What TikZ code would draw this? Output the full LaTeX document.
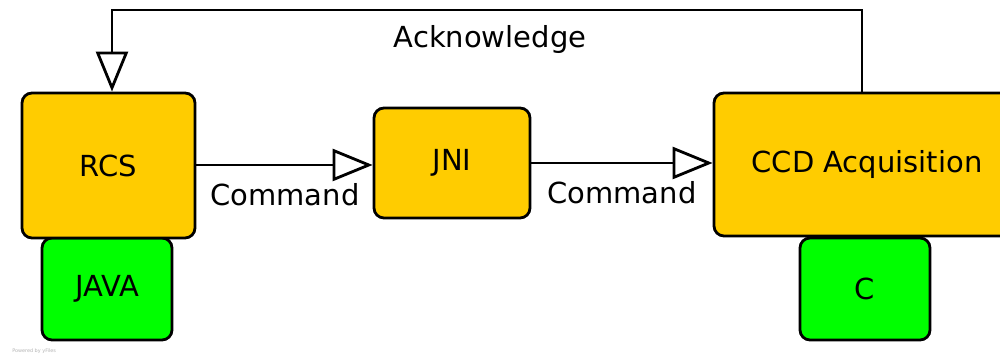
\documentclass[tikz,border=0pt]{standalone}
\usepackage{fontspec}
\setmainfont{DejaVu Sans}
\usetikzlibrary{arrows.meta,positioning}
\definecolor{boxorange}{RGB}{255,204,0}
\definecolor{boxgreen}{RGB}{0,255,0}
\tikzset{every path/.style={black,line width=1.6pt}, every node/.style={font=\fontsize{16.5}{20}\selectfont}}
\tikzset{block/.style={draw,rounded corners=0.2cm,fill=boxorange,inner sep=0pt},
  langbox/.style={draw,rounded corners=0.2cm,fill=boxgreen,inner sep=0pt,minimum width=2.6cm,minimum height=2.04cm},
  openarrow/.style={-{Triangle[open,length=0.8cm,width=0.64cm,fill=white]}}}

\begin{document}
\begin{tikzpicture}
   \useasboundingbox (0,0) rectangle (20,7.2);
   % language boxes below
   \node[langbox] (java) at (2.14,1.42) {JAVA};
   \node[langbox] (clang) at (17.3,1.42) {C};
   % main blocks
   \node[block,minimum width=3.46cm,minimum height=2.9cm] (rcs) at (2.17,3.89) {RCS};
   \node[block,minimum width=3.12cm,minimum height=2.2cm] (jni) at (9.04,3.94) {\raisebox{-2pt}{JNI}};
   \node[block,minimum width=6.12cm,minimum height=2.86cm] (ccd) at (17.34,3.91) {CCD Acquisition};
   % commands
   \draw[openarrow] (rcs.east |- 0,3.9) -- (jni.west |- 0,3.9);
   \draw[openarrow] (jni.east |- 0,3.94) -- (ccd.west |- 0,3.94);
   \node (cmdA) at (5.7,3.3) {Command};
   \node (cmdB) at (12.44,3.34) {Command};
   % acknowledge loop
   \coordinate (ackR) at (17.24,7.0);
   \coordinate (ackL) at (2.24,7.0);
   \draw[openarrow] (ackR |- ccd.north) -- (ackR) -- (ackL) -- (ackL |- rcs.north);
   \node (ack) at (9.8,6.4) {Acknowledge};
   \node[font=\fontsize{2.8}{3}\selectfont,text=black!30,anchor=west] (credit) at (0.1,0.18) {Powered by yFiles};
\end{tikzpicture}
\end{document}
